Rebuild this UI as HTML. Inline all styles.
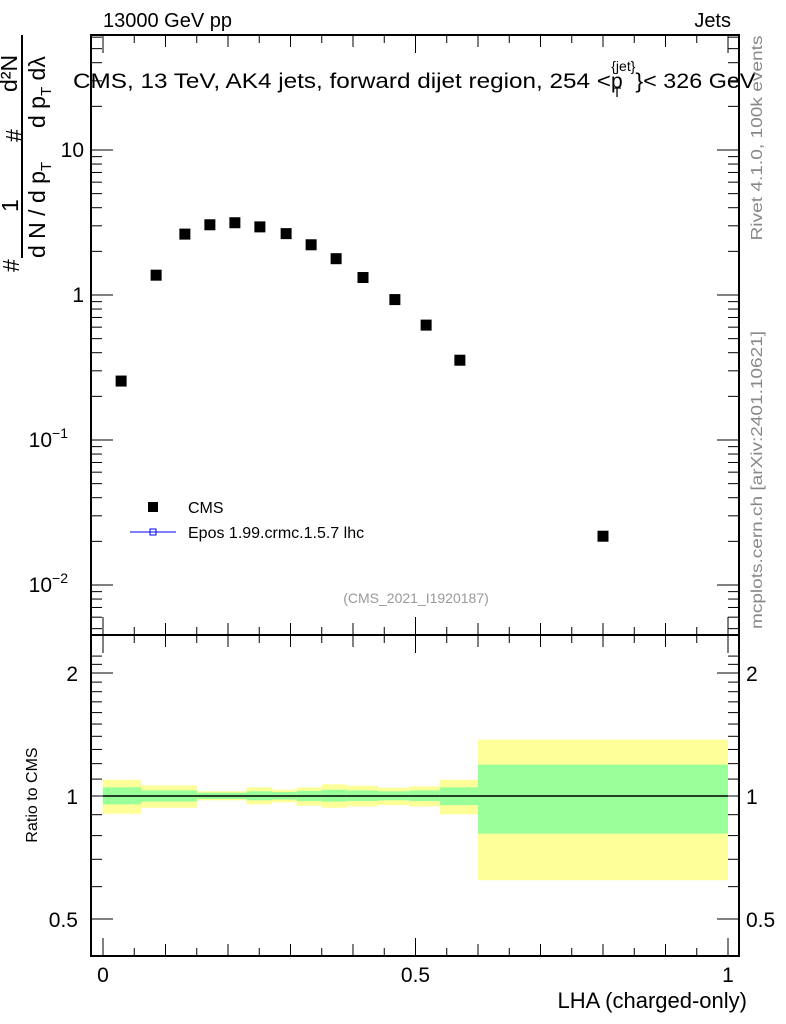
<!DOCTYPE html>
<html><head><meta charset="utf-8"><style>
body{margin:0;background:#fff;}
svg{display:block;font-family:"Liberation Sans",sans-serif;}
</style></head><body>
<svg id="chart" width="786" height="1024" xmlns="http://www.w3.org/2000/svg">
<g id="bands"></g>
<g id="marks"></g>
<g id="axes"></g>
<text x="103" y="27" font-size="20">13000 GeV pp</text>
<text x="731" y="27" font-size="20" text-anchor="end">Jets</text>
<text x="73" y="88" font-size="21"><tspan textLength="538" lengthAdjust="spacingAndGlyphs">CMS, 13 TeV, AK4 jets, forward dijet region, 254 &lt;</tspan><tspan>p</tspan><tspan font-size="14" dy="9" dx="-10">T</tspan><tspan font-size="14" dy="-26" dx="-10">{jet}</tspan><tspan dy="17" textLength="120" lengthAdjust="spacingAndGlyphs">}&lt; 326 GeV</tspan></text>
<text transform="translate(762,138) rotate(-90)" font-size="16" fill="#888" text-anchor="middle" textLength="205" lengthAdjust="spacingAndGlyphs">Rivet 4.1.0,  100k events</text>
<text transform="translate(762,480) rotate(-90)" font-size="16" fill="#888" text-anchor="middle" textLength="298" lengthAdjust="spacingAndGlyphs">mcplots.cern.ch [arXiv:2401.10621]</text>
<text x="416" y="603" font-size="14" fill="#999" text-anchor="middle">(CMS_2021_I1920187)</text>
<g font-size="23">
<line x1="22" y1="35" x2="22" y2="258" stroke="#000" stroke-width="2"/>
<text transform="translate(19,272) rotate(-90)">#</text>
<text transform="translate(18,212) rotate(-90)">1</text>
<text transform="translate(22,142) rotate(-90)">#</text>
<text transform="translate(17,92) rotate(-90)">d²N</text>
<text transform="translate(45,258) rotate(-90)">d N / d p<tspan font-size="15" dy="6">T</tspan></text>
<text transform="translate(45,128) rotate(-90)">d p<tspan font-size="15" dy="6">T</tspan><tspan dy="-6">  dλ</tspan></text>
</g>
<text transform="translate(37,795) rotate(-90)" font-size="16" text-anchor="middle">Ratio to CMS</text>
<text x="747" y="1008" font-size="22" text-anchor="end">LHA (charged-only)</text>
<g>
<rect x="148" y="502" width="10" height="10" fill="#000"/>
<text x="188" y="513" font-size="16">CMS</text>
<line x1="130" y1="532" x2="176" y2="532" stroke="#00f" stroke-width="1"/>
<rect x="150" y="529" width="6" height="6" fill="none" stroke="#00f"/>
<text x="188" y="538" font-size="16">Epos 1.99.crmc.1.5.7 lhc</text>
</g>
</svg>
<script>
const binCenters=[0.029,0.085,0.131,0.171,0.211,0.251,0.293,0.333,0.373,0.416,0.467,0.517,0.571,0.80];
const cmsValues=[0.255,1.37,2.63,3.05,3.15,2.95,2.65,2.22,1.78,1.32,0.93,0.62,0.355,0.0217];
const bandEdges=[0,0.0616,0.151,0.2296,0.2712,0.31,0.35,0.39,0.44,0.49,0.539,0.60,1.0];
const yellowUp=[1.096,1.062,1.027,1.05,1.036,1.05,1.068,1.06,1.048,1.056,1.096,1.374];
const yellowDown=[0.905,0.936,0.976,0.954,0.965,0.947,0.936,0.943,0.95,0.943,0.902,0.622];
const greenUp=[1.05,1.032,1.019,1.027,1.023,1.029,1.036,1.032,1.027,1.032,1.05,1.193];
const greenDown=[0.954,0.969,0.983,0.976,0.98,0.972,0.969,0.972,0.976,0.972,0.95,0.809];
const mainYTicks=[{v:10,l:"10"},{v:1,l:"1"},{v:0.1,l:"10",e:"−1"},{v:0.01,l:"10",e:"−2"}];
const ratioYTicks=[2,1,0.5];
const xTickLabels=[0,0.5,1];

const NS="http://www.w3.org/2000/svg";
const L=91,R=739,MT=35,MB=635,RT=635,RB=956;
const X=v=>103+v*625;
const Y=v=>295-Math.log10(v)*145;
const YR=v=>796-Math.log10(v)*408.6;
function mk(tag,attrs,parent){const e=document.createElementNS(NS,tag);for(const k in attrs)e.setAttribute(k,attrs[k]);parent.appendChild(e);return e;}
const bands=document.getElementById('bands'),marks=document.getElementById('marks'),axes=document.getElementById('axes');
for(let i=0;i<bandEdges.length-1;i++){
 const x0=X(bandEdges[i]),x1=X(bandEdges[i+1]);
 const y=mk('rect',{x:x0,y:YR(yellowUp[i]),width:x1-x0,height:YR(yellowDown[i])-YR(yellowUp[i]),fill:'#ffff99'},bands);
 
 
 const g=mk('rect',{x:x0,y:YR(greenUp[i]),width:x1-x0,height:YR(greenDown[i])-YR(greenUp[i]),fill:'#99ff99'},bands);
 
 
}
const one=mk('line',{x1:X(0),x2:X(1),y1:YR(1),y2:YR(1),stroke:'#000','stroke-width':1.5},bands);


binCenters.forEach((c,i)=>{
 const r=mk('rect',{x:X(c)-5.5,y:Y(cmsValues[i])-5.5,width:11,height:11,fill:'#000'},marks);
 
 
});
[[MT,MB],[RT,RB]].forEach(([t,b])=>{
 const f=mk('rect',{x:L,y:t,width:R-L,height:b-t,fill:'none',stroke:'#000','stroke-width':2},axes);
 
 
});
for(let k=0;k<=20;k++){
 const v=k*0.05,x=X(v),len=(k%10==0)?18:(k%2==0?12:8);
 [[MT,1],[MB,-1],[RT,1],[RB,-1]].forEach(([y0,d])=>mk('line',{x1:x,x2:x,y1:y0,y2:y0+d*len,stroke:'#000','stroke-width':1},axes));
}
xTickLabels.forEach(v=>{const t=mk('text',{x:X(v),y:982,'font-size':21,'text-anchor':'middle'},axes);t.textContent=v;
 
 });
for(let d=-3;d<=1;d++){for(let m=1;m<=9;m++){const v=m*Math.pow(10,d),y=Y(v);if(y<MT||y>MB)continue;const len=m==1?22:11;
 mk('line',{x1:L,x2:L+len,y1:y,y2:y,stroke:'#000'},axes);mk('line',{x1:R,x2:R-len,y1:y,y2:y,stroke:'#000'},axes);}}
mainYTicks.forEach(t=>{const e=mk('text',{x:84,y:Y(t.v)+7,'font-size':21,'text-anchor':'end'},axes);
 
 
 if(t.e){e.setAttribute('x',68);e.textContent=t.l;const s=mk('tspan',{'font-size':14,dy:-9},e);s.textContent=t.e;}else e.textContent=t.l;});
for(let v=0.4;v<=2.3;v+=0.1){const y=YR(v);if(y<RT||y>RB)continue;const big=[0.5,1,2].some(q=>Math.abs(q-v)<1e-6);const len=big?22:11;
 mk('line',{x1:L,x2:L+len,y1:y,y2:y,stroke:'#000'},axes);mk('line',{x1:R,x2:R-len,y1:y,y2:y,stroke:'#000'},axes);}
ratioYTicks.forEach(v=>{
 const a=mk('text',{x:78,y:YR(v)+8,'font-size':21,'text-anchor':'end'},axes);a.textContent=v;
 
 
 const b=mk('text',{x:746,y:YR(v)+8,'font-size':21},axes);b.textContent=v;
 
 
});
</script>
</body></html>
